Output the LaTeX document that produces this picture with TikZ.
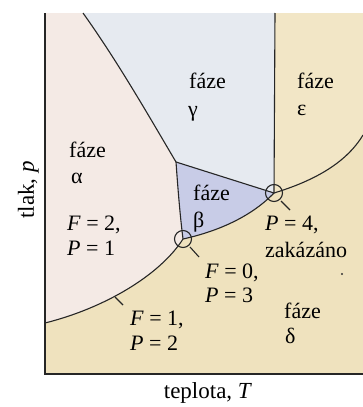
\documentclass[tikz,border=0pt]{standalone}
\usepackage{fontspec}
\setmainfont{Liberation Serif}
\begin{document}
\begin{tikzpicture}[x=1pt,y=-1pt,
  lbl/.style={anchor=base west, inner sep=0pt, font=\fontsize{22}{26}\selectfont},
  axlbl/.style={inner sep=0pt, font=\fontsize{23}{27}\selectfont},
  bnd/.style={line width=1.1pt, black!85},
  axisline/.style={line width=1.5pt, black!85},
  ring/.style={circle, draw=black!85, line width=1.1pt, minimum size=17pt, inner sep=0pt}]
\definecolor{alphac}{HTML}{F4EAE5}
\definecolor{gammac}{HTML}{E6EAF0}
\definecolor{betac}{HTML}{C8CCE7}
\definecolor{deltac}{HTML}{EFE2BE}
\definecolor{epsc}{HTML}{F2E6C6}
\useasboundingbox (0,0) rectangle (363,407);
% key points
\coordinate (O) at (45,374);
\coordinate (TL) at (45,13);
\coordinate (BR) at (363,374);
\coordinate (TR) at (363,13);
\coordinate (A) at (45,323);
\coordinate (T) at (183,239);
\coordinate (Q) at (274,193);
\coordinate (B) at (176,162);
\coordinate (G) at (83,13);
\coordinate (V) at (275,13);
\coordinate (R) at (363,135);
% fills
\fill[alphac] (TL) -- (G) .. controls (118,62) and (150,118) .. (B)
  .. controls (178,190) and (180,215) .. (T)
  .. controls (160,275) and (105,308) .. (A) -- cycle;
\fill[gammac] (G) .. controls (118,62) and (150,118) .. (B) -- (Q) -- (V) -- cycle;
\fill[betac] (B) -- (Q) .. controls (250,218) and (215,232) .. (T)
  .. controls (180,215) and (178,190) .. (B) -- cycle;
\fill[epsc] (V) -- (TR) -- (R) .. controls (345,165) and (310,182) .. (Q) -- cycle;
\fill[deltac] (A) .. controls (105,308) and (160,275) .. (T)
  .. controls (215,232) and (250,218) .. (Q)
  .. controls (310,182) and (345,165) .. (R) -- (BR) -- (O) -- cycle;
% boundaries
\draw[bnd] (G) .. controls (118,62) and (150,118) .. (B);
\draw[bnd] (B) -- (Q);
\draw[bnd] (B) .. controls (178,190) and (180,215) .. (T);
\draw[bnd] (V) -- (Q);
\draw[bnd] (A) .. controls (105,308) and (160,275) .. (T);
\draw[bnd] (T) .. controls (215,232) and (250,218) .. (Q);
\draw[bnd] (Q) .. controls (310,182) and (345,165) .. (R);
% axes
\draw[axisline] (TL) -- (O) -- (BR);
% point markers
\node[ring] (tp) at (T) {};
\node[ring] (qp) at (Q) {};
\coordinate (tpa) at (190,247);
\coordinate (tpb) at (199,257);
\coordinate (qpa) at (281,201);
\coordinate (qpb) at (290,210);
\coordinate (ca) at (115,297);
\coordinate (cb) at (123,305);
\draw[bnd] (tpa) -- (tpb);
\draw[bnd] (qpa) -- (qpb);
\draw[bnd] (ca) -- (cb);
% labels
\node[lbl] (g1) at (189,88) {fáze};
\node[lbl] (g2) at (188,116) {γ};
\node[lbl] (e1) at (297,88) {fáze};
\node[lbl] (e2) at (297,115) {ε};
\node[lbl] (a1) at (69,157) {fáze};
\node[lbl] (a2) at (71,183) {α};
\node[lbl] (b1) at (193,200) {fáze};
\node[lbl] (b2) at (193,227) {β};
\node[lbl] (f2) at (67,230) {\textit{F} = 2,};
\node[lbl] (p1) at (67,255) {\textit{P} = 1};
\node[lbl] (f0) at (205,278) {\textit{F} = 0,};
\node[lbl] (p3) at (205,302) {\textit{P} = 3};
\node[lbl] (p4) at (265,230) {\textit{P} = 4,};
\node[lbl] (zk) at (265,257) {zakázáno};
\node[lbl] (f1) at (130,325) {\textit{F} = 1,};
\node[lbl] (p2) at (130,350) {\textit{P} = 2};
\node[lbl] (d1) at (284,318) {fáze};
\node[lbl] (d2) at (285,343) {δ};
\fill[black!80] (342,274) circle (1.1pt);
\node[axlbl, anchor=base] (xl) at (208,398) {teplota, \textit{T}};
\node[axlbl, anchor=base, rotate=90] (yl) at (34,190) {tlak, \textit{p}};
\end{tikzpicture}
\end{document}
